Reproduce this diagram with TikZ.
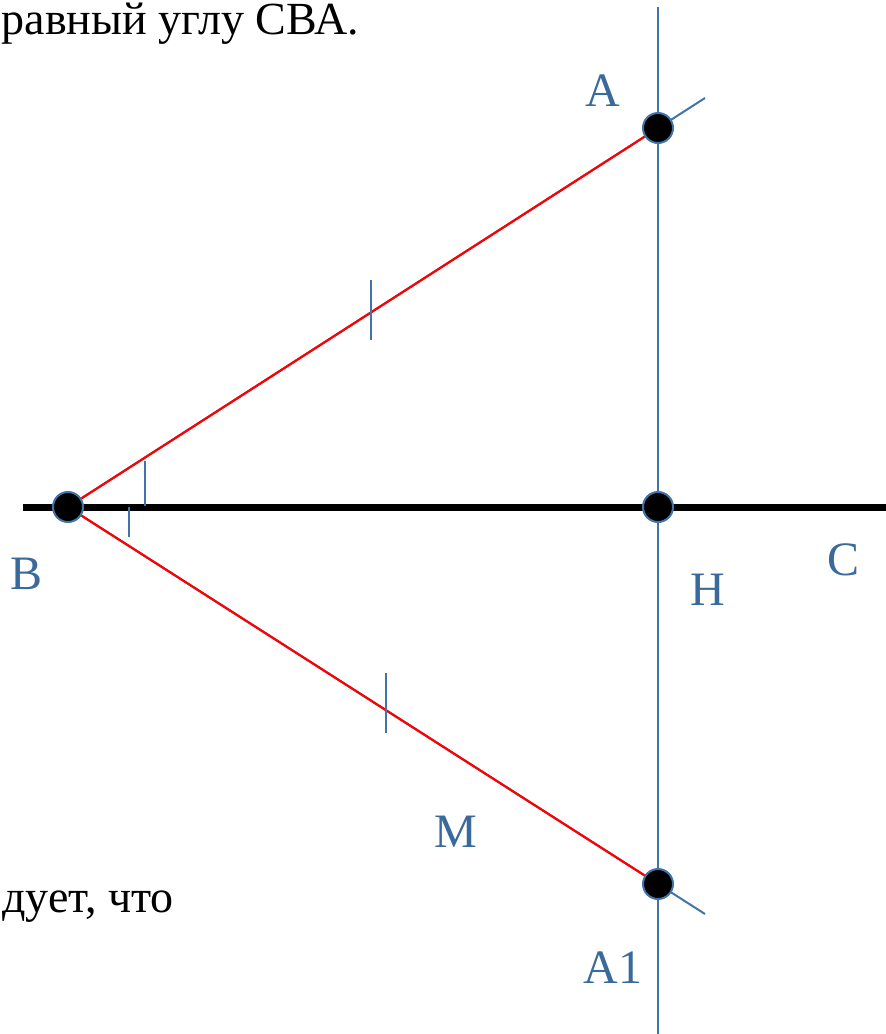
\documentclass[tikz,border=0pt]{standalone}
\usepackage{fontspec}
\setmainfont{Liberation Serif}
\definecolor{lineblue}{HTML}{4174A8}
\definecolor{labelblue}{HTML}{3A6A9C}
\begin{document}
\begin{tikzpicture}[x=1pt,y=-1pt,
  bline/.style={draw=lineblue,line width=2pt},
  rline/.style={draw=red,line width=2.2pt},
  axis/.style={draw=black,line width=7pt},
  dot/.style={circle,fill=black,draw=lineblue,line width=2pt,minimum size=30pt,inner sep=0pt},
  lbl/.style={text=labelblue,inner sep=0pt,font=\fontsize{48}{56}\selectfont},
  body/.style={text=black,inner sep=0pt,font=\fontsize{46}{54}\selectfont}]
\useasboundingbox (0,0) rectangle (886,1034);
\clip (0,0) rectangle (886,1034);
% coordinates
\coordinate (B) at (68,507);
\coordinate (A) at (658,128);
\coordinate (H) at (658,507);
\coordinate (A1) at (658,884);
\coordinate (Aext) at (705,98);
\coordinate (A1ext) at (705,914);
\coordinate (Vtop) at (658,7);
\coordinate (Vbot) at (658,1040);
\coordinate (Lleft) at (23,507);
\coordinate (Lright) at (886,507);
% lines
\draw[axis] (Lleft) -- (Lright);
\draw[bline] (Vtop) -- (Vbot);
\draw[bline] (B) -- (Aext);
\draw[bline] (B) -- (A1ext);
\draw[rline] (B) -- (A);
\draw[rline] (B) -- (A1);
% ticks
\coordinate (t1a) at (371,280); \coordinate (t1b) at (371,340);
\coordinate (t2a) at (386,673); \coordinate (t2b) at (386,733);
\coordinate (t3a) at (145,461); \coordinate (t3b) at (145,506);
\coordinate (t4a) at (129,507); \coordinate (t4b) at (129,537);
\draw[bline] (t1a) -- (t1b);
\draw[bline] (t2a) -- (t2b);
\draw[bline] (t3a) -- (t3b);
\draw[bline] (t4a) -- (t4b);
% dots
\node[dot] (dB) at (B) {};
\node[dot] (dA) at (A) {};
\node[dot] (dH) at (H) {};
\node[dot] (dA1) at (A1) {};
% labels
\node[lbl] (lA) at (603,91) {A};
\node[lbl] (lB) at (27,574) {B};
\node[lbl] (lC) at (843,560) {C};
\node[lbl] (lH) at (708,590) {H};
\node[lbl] (lM) at (456,832) {M};
\node[lbl] (lA1) at (613,968) {A1};
% text
\node[body,anchor=base east] (t1) at (359,34) {равный углу СВА.};
\node[body,anchor=base east] (t2) at (174,912) {дует, что};
\end{tikzpicture}
\end{document}
